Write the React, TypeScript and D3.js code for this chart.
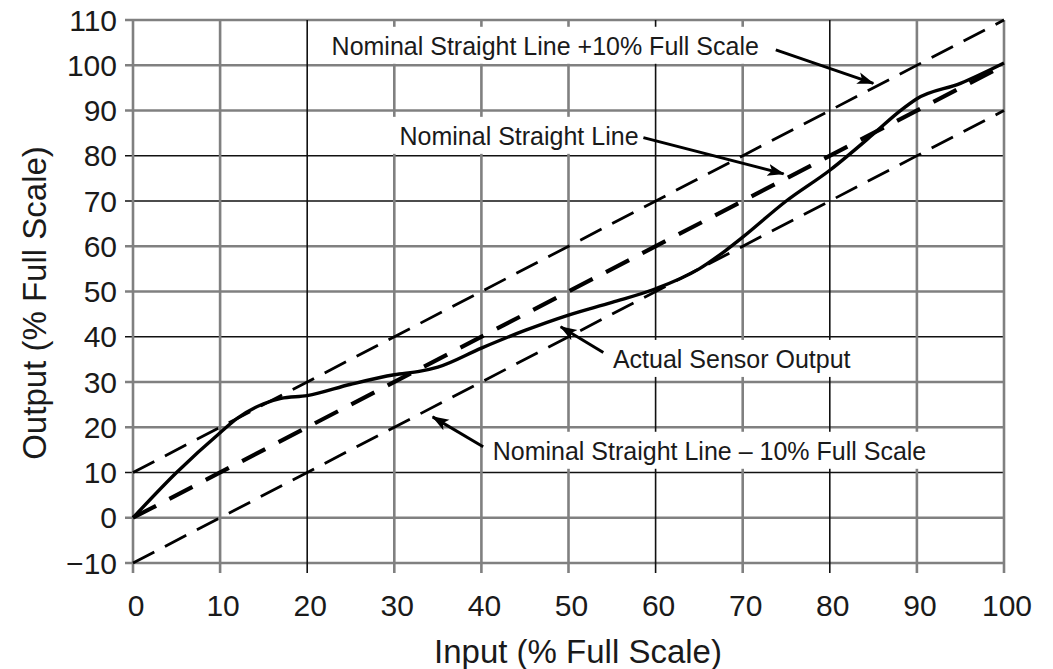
import React, { useEffect, useRef } from "react";
import * as d3 from "d3";

const WIDTH = 1053;
const HEIGHT = 669;
const margin = { top: 20, right: 49, bottom: 106, left: 133 };

// axis ticks
const xTicks = [0, 10, 20, 30, 40, 50, 60, 70, 80, 90, 100];
const yTicks = [-10, 0, 10, 20, 30, 40, 50, 60, 70, 80, 90, 100, 110];
const darkXGrid = [20, 60, 80];
const darkYGrid = [10, 40, 70, 80];

// actual sensor output
const sensorInput = [0, 5, 10, 12, 15, 17, 20, 25, 30, 33, 35, 40, 45, 50, 55, 60, 65, 68, 70, 75, 80, 85, 88, 90, 95, 100];
const sensorOutput = [0, 10, 18.8, 22, 25.2, 26.4, 27, 29.5, 31.6, 32.4, 33.3, 37.5, 41.4, 44.8, 47.6, 50.6, 55, 59, 62, 70, 76.8, 84.8, 89.8, 92.6, 96, 100.5];

// straight lines
const lineInput = [0, 100];
const nominalOutput = [0, 100];
const upperOutput = [10, 110];
const lowerOutput = [-10, 90];

// annotations (data units)
const labelTexts = [
  "Nominal Straight Line +10% Full Scale",
  "Nominal Straight Line",
  "Actual Sensor Output",
  "Nominal Straight Line \u2013 10% Full Scale",
];
const labelX = [22.8, 30.6, 55.1, 41.3];
const labelY = [104.3, 84.4, 35.1, 14.8];
const arrowFrom = [[73.8, 103.4], [58.6, 84], [54, 36.5], [40.2, 15.7]];
const arrowTo = [[85, 96], [74.7, 76], [49.1, 42.2], [34.4, 22.3]];

const FONT = "'Liberation Sans', Arial, Helvetica, sans-serif";

const Chart = () => {
  const svgRef = useRef<SVGSVGElement | null>(null);

  useEffect(() => {
    const svg = d3.select(svgRef.current);
    svg.selectAll("*").remove();

    const xScale = d3.scaleLinear().domain([0, 100]).range([margin.left, WIDTH - margin.right]);
    const yScale = d3.scaleLinear().domain([-10, 110]).range([HEIGHT - margin.bottom, margin.top]);
    const fmt = d3.format("d");

    const defs = svg.append("defs");
    defs.append("marker")
      .attr("id", "arrowhead")
      .attr("markerUnits", "userSpaceOnUse")
      .attr("markerWidth", 18)
      .attr("markerHeight", 14)
      .attr("refX", 16)
      .attr("refY", 7)
      .attr("orient", "auto")
      .append("path")
      .attr("d", "M0,1 L17,7 L0,13 L4,7 Z")
      .attr("fill", "#000");

    /* grid ----------------------------------------- */
    const grid = svg.append("g");
    grid.selectAll(".hgrid")
      .data(yTicks)
      .join("line")
      .attr("x1", margin.left - 8)
      .attr("x2", xScale(100))
      .attr("y1", d => yScale(d))
      .attr("y2", d => yScale(d))
      .attr("stroke", d => darkYGrid.includes(d) ? "#111" : "#808080")
      .attr("stroke-width", d => darkYGrid.includes(d) ? 1.6 : 2.6);

    grid.selectAll(".vgrid")
      .data(xTicks)
      .join("line")
      .attr("x1", d => xScale(d))
      .attr("x2", d => xScale(d))
      .attr("y1", yScale(110))
      .attr("y2", yScale(-10) + 10)
      .attr("stroke", d => darkXGrid.includes(d) ? "#111" : "#808080")
      .attr("stroke-width", d => darkXGrid.includes(d) ? 1.6 : 2.6);

    const boxes = svg.append("g");
    const lines = svg.append("g");
    const notes = svg.append("g");

    /* lines ---------------------------------------- */
    const straight = d3.line<number>()
      .x((d, i) => xScale(lineInput[i]))
      .y(d => yScale(d));

    lines.append("path")
      .attr("d", straight(upperOutput))
      .attr("fill", "none")
      .attr("stroke", "#000")
      .attr("stroke-width", 2.8)
      .attr("stroke-dasharray", "24 12");

    lines.append("path")
      .attr("d", straight(lowerOutput))
      .attr("fill", "none")
      .attr("stroke", "#000")
      .attr("stroke-width", 2.8)
      .attr("stroke-dasharray", "24 12");

    lines.append("path")
      .attr("d", straight(nominalOutput))
      .attr("fill", "none")
      .attr("stroke", "#000")
      .attr("stroke-width", 4.2)
      .attr("stroke-dasharray", "26 15");

    const sensorLine = d3.line<number>()
      .x((d, i) => xScale(sensorInput[i]))
      .y(d => yScale(d))
      .curve(d3.curveMonotoneX);

    lines.append("path")
      .attr("d", sensorLine(sensorOutput))
      .attr("fill", "none")
      .attr("stroke", "#000")
      .attr("stroke-width", 3.4)
      .attr("stroke-linejoin", "round");

    /* annotations ---------------------------------- */
    labelTexts.forEach((t, i) => {
      const txt = notes.append("text")
        .attr("x", xScale(labelX[i]))
        .attr("y", yScale(labelY[i]))
        .attr("dominant-baseline", "central")
        .attr("font-family", FONT)
        .attr("font-size", 25)
        .attr("fill", "#1a1a1a")
        .text(t);
      const bb = (txt.node() as SVGTextElement).getBBox();
      boxes.append("rect")
        .attr("x", bb.x - 7)
        .attr("y", bb.y - 5)
        .attr("width", bb.width + 16)
        .attr("height", bb.height + 9)
        .attr("fill", "#fff");
    });

    notes.selectAll(".arrow")
      .data(arrowFrom)
      .join("line")
      .attr("x1", d => xScale(d[0]))
      .attr("y1", d => yScale(d[1]))
      .attr("x2", (d, i) => xScale(arrowTo[i][0]))
      .attr("y2", (d, i) => yScale(arrowTo[i][1]))
      .attr("stroke", "#000")
      .attr("stroke-width", 3)
      .attr("marker-end", "url(#arrowhead)");

    /* axes labels ---------------------------------- */
    const axisText = svg.append("g")
      .attr("font-family", FONT)
      .attr("fill", "#1a1a1a");

    axisText.selectAll(".ylab")
      .data(yTicks)
      .join("text")
      .attr("x", margin.left - 16)
      .attr("y", d => yScale(d))
      .attr("text-anchor", "end")
      .attr("dominant-baseline", "central")
      .attr("font-size", 30)
      .text(d => fmt(d));

    axisText.selectAll(".xlab")
      .data(xTicks)
      .join("text")
      .attr("x", d => xScale(d) + 3)
      .attr("y", yScale(-10) + 42)
      .attr("text-anchor", "middle")
      .attr("dominant-baseline", "central")
      .attr("font-size", 30)
      .text(d => fmt(d));

    axisText.append("text")
      .attr("x", 578)
      .attr("y", yScale(-10) + 88)
      .attr("text-anchor", "middle")
      .attr("dominant-baseline", "central")
      .attr("font-size", 33)
      .text("Input (% Full Scale)");

    axisText.append("text")
      .attr("transform", `translate(34, 303) rotate(-90)`)
      .attr("text-anchor", "middle")
      .attr("dominant-baseline", "central")
      .attr("font-size", 33)
      .text("Output (% Full Scale)");
  }, []);

  return (
    <svg ref={svgRef} width={WIDTH} height={HEIGHT} style={{ display: "block", background: "#fff" }} />
  );
};

export default function App() {
  return (
    <div style={{ position: "fixed", left: 0, top: 0, width: WIDTH, height: HEIGHT, background: "#fff" }}>
      <Chart />
    </div>
  );
}
